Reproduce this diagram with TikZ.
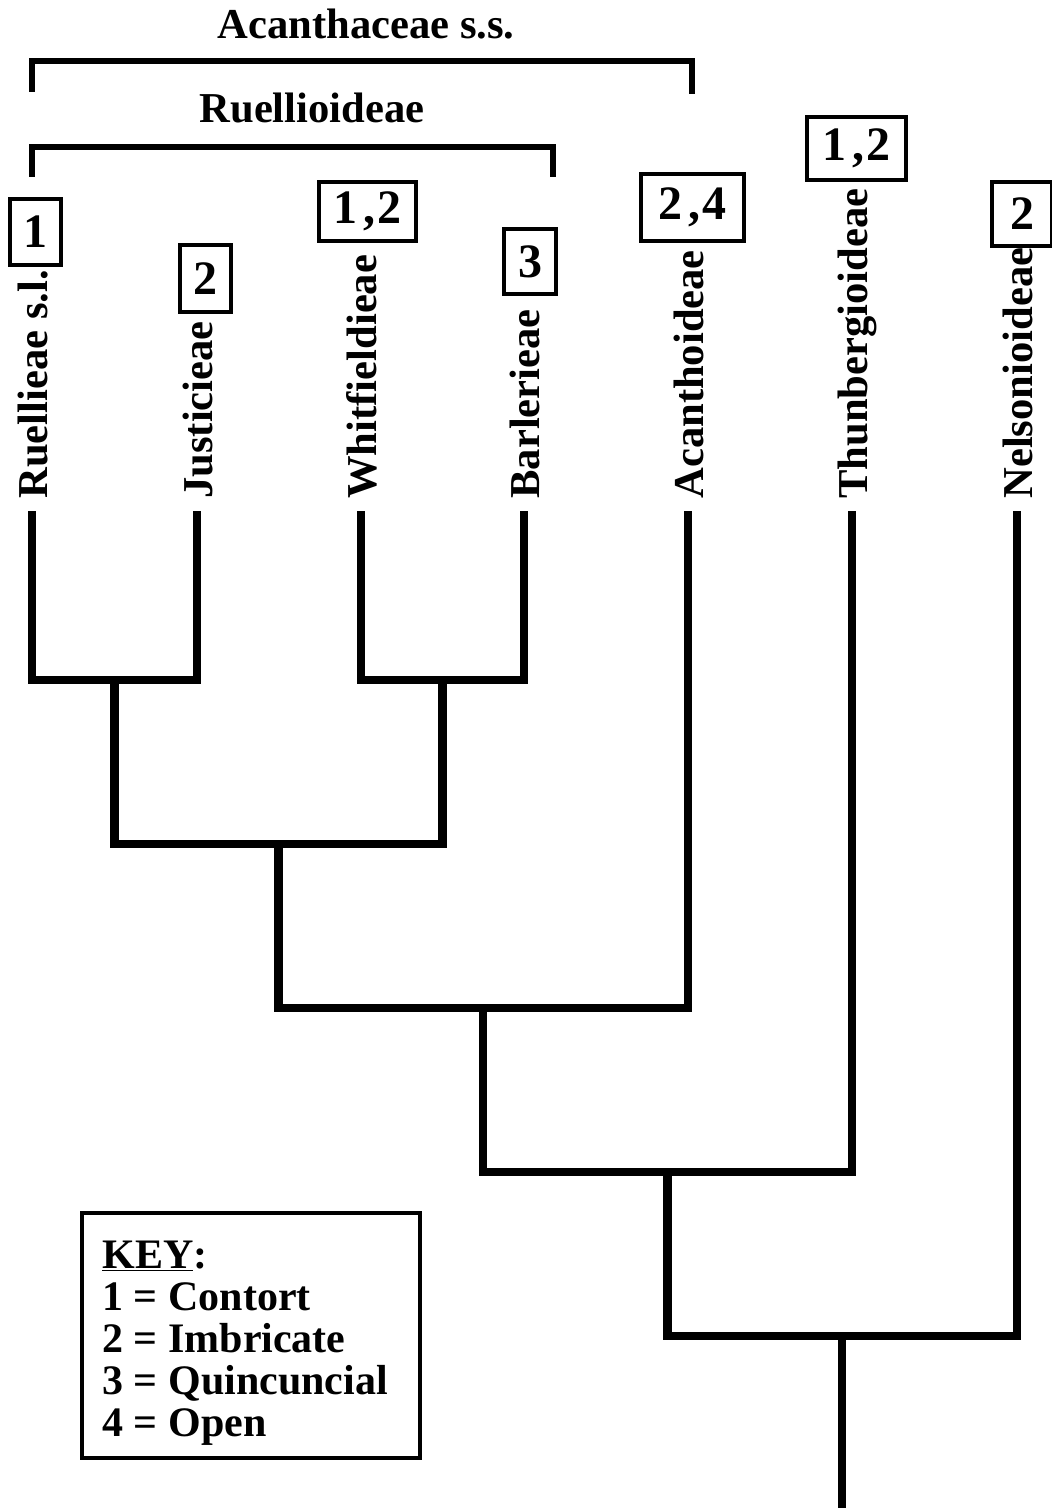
\documentclass[tikz,border=0pt]{standalone}
\usepackage{fontspec}
\setmainfont{Liberation Serif}
\begin{document}
\begin{tikzpicture}[x=0.5pt,y=-0.5pt,
  branch/.style={line width=4.4pt, line join=miter, line cap=butt},
  bracket/.style={line width=3.2pt, line join=miter, line cap=butt},
  lab/.style={font=\fontsize{21.3}{21.3}\selectfont\bfseries, inner sep=0pt, rotate=90, anchor=base west},
  title/.style={font=\fontsize{21.3}{21.3}\selectfont\bfseries, inner sep=0pt, anchor=base},
  numbox/.style={draw, line width=2.2pt, inner sep=0pt, font=\fontsize{24}{24}\selectfont\bfseries},
  keyline/.style={font=\fontsize{21}{21}\selectfont\bfseries, inner sep=0pt, anchor=base west}]
\useasboundingbox (0,0) rectangle (1052,1508);
\clip (0,0) rectangle (1052,1508);

% leaf tips
\coordinate (tR) at (32,511);
\coordinate (tJ) at (197,511);
\coordinate (tW) at (361,511);
\coordinate (tB) at (524,511);
\coordinate (tA) at (688,511);
\coordinate (tT) at (852,511);
\coordinate (tN) at (1017,511);
% internal nodes
\coordinate (nRJ) at (114.5,680);
\coordinate (nWB) at (442.5,680);
\coordinate (nRB) at (278.5,844);
\coordinate (nRA) at (483,1008);
\coordinate (nRT) at (667.5,1172);
\coordinate (nAll) at (842,1336);
\coordinate (root) at (842,1508);

\draw[branch] (tR) |- (nRJ) -| (tJ);
\draw[branch] (tW) |- (nWB) -| (tB);
\draw[branch] (nRJ) |- (nRB) -| (nWB);
\draw[branch] (nRB) |- (nRA) -| (tA);
\draw[branch] (nRA) |- (nRT) -| (tT);
\draw[branch] (nRT) |- (nAll) -| (tN);
\draw[branch] (nAll) -- (root);

% leaf labels
\node[lab] (lR) at (47,499) {Ruellieae s.l.};
\node[lab] (lJ) at (212,499) {Justicieae};
\node[lab] (lW) at (376,499) {Whitfieldieae};
\node[lab] (lB) at (539,499) {Barlerieae};
\node[lab] (lA) at (703,499) {Acanthoideae};
\node[lab] (lT) at (867,499) {Thunbergioideae};
\node[lab] (lN) at (1032,499) {Nelsonioideae};

% aestivation boxes
\node[numbox, minimum width=25.3pt, minimum height=32.8pt] (b1) at (35.5,232) {1};
\node[numbox, minimum width=25.3pt, minimum height=33.3pt] (b2) at (205.5,278.5) {2};
\node[numbox, minimum width=48.3pt, minimum height=29.3pt] (b3) at (367.5,211.5) {1\kern3pt,\kern1pt2};
\node[numbox, minimum width=25.8pt, minimum height=32.3pt] (b4) at (530,261.5) {3};
\node[numbox, minimum width=51.3pt, minimum height=33.3pt] (b5) at (692.5,207.5) {2\kern3pt,\kern1pt4};
\node[numbox, minimum width=49.3pt, minimum height=31.3pt] (b6) at (856.5,148.5) {1\kern3pt,\kern1pt2};
\node[numbox, minimum width=30.3pt, minimum height=31.8pt] (b7) at (1022,214) {2};

% brackets
\coordinate (acL) at (32,92);
\coordinate (acTop) at (366,61);
\coordinate (acR) at (692,94);
\draw[bracket] (acL) |- (acTop) -| (acR);
\coordinate (ruL) at (32,177);
\coordinate (ruTop) at (292,147);
\coordinate (ruR) at (553,177);
\draw[bracket] (ruL) |- (ruTop) -| (ruR);
\node[title] (tAc) at (366,39) {Acanthaceae s.s.};
\node[title] (tRu) at (312,123) {Ruellioideae};

% key
\node[draw, line width=2pt, inner sep=0pt, minimum width=169pt, minimum height=122.5pt] (keyframe) at (251,1335.5) {};
\node[keyline] (k0) at (102,1268) {\underline{KEY}:};
\node[keyline] (k1) at (102,1310) {1 = Contort};
\node[keyline] (k2) at (102,1352) {2 = Imbricate};
\node[keyline] (k3) at (102,1394) {3 = Quincuncial};
\node[keyline] (k4) at (102,1436) {4 = Open};
\end{tikzpicture}
\end{document}
